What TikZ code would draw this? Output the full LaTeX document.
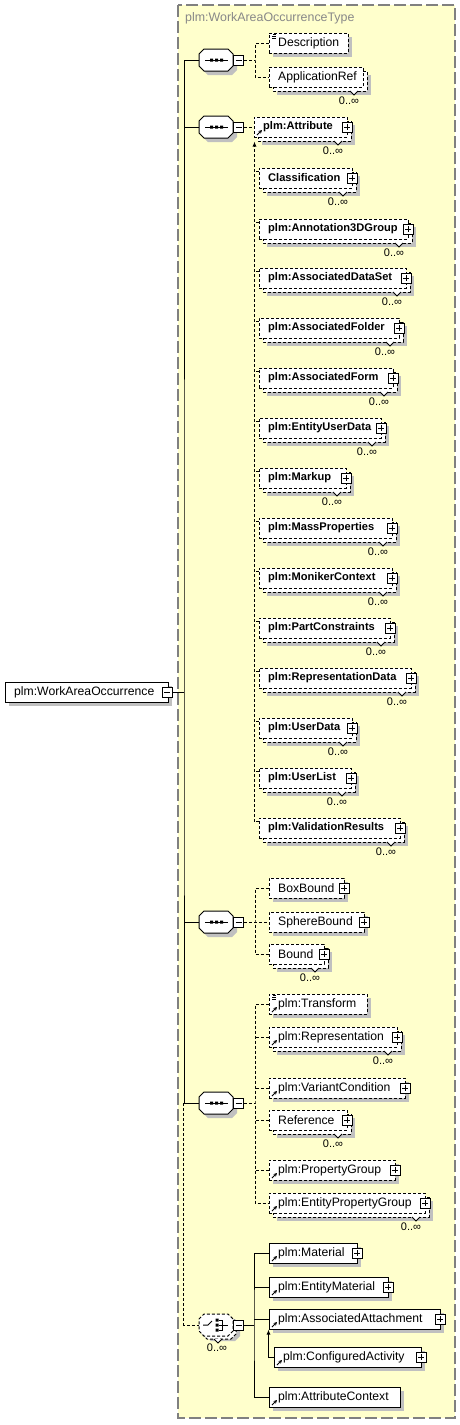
\documentclass[tikz,border=0pt]{standalone}
\usepackage{fontspec}
\setmainfont{Liberation Sans}
\usetikzlibrary{fit,arrows.meta}
\definecolor{ylw}{RGB}{255,255,204}
\definecolor{shd}{RGB}{192,192,192}
\definecolor{ttl}{RGB}{136,136,136}
\definecolor{frame}{RGB}{128,128,128}
\tikzset{
 dsh/.style={dash pattern=on 3pt off 2pt},
 ln/.style={line width=1pt},
 con/.style={line width=1pt,dash pattern=on 3pt off 2pt},
 box/.style={draw=black,fill=white,line width=1pt,inner sep=0pt},
 tx/.style={font=\fontsize{12.2}{14}\selectfont,inner sep=0pt,anchor=west},
 txb/.style={font=\fontsize{11.1}{13}\bfseries\selectfont,inner sep=0pt,anchor=west},
 occ/.style={font=\fontsize{11}{13}\selectfont,inner sep=0pt},
 sq/.style={draw=black,fill=white,line width=1pt,minimum size=10pt,inner sep=0pt},
 tip/.style={-{Latex[length=5pt,width=4pt]}},
}
% single element: name, xl, xr, cy, border style, text style, text
\newcommand{\XS}[7]{%
 \fill[shd] (#2+4,#4-6) rectangle (#3+4,#4+14);
 \node[box,#5,fit={(#2,#4-10) (#3,#4+10)}] (#1) {};
 \node[#6] (#1-t) at (#2+9,#4) {#7};
}
% multiple element
\newcommand{\XM}[7]{%
 \fill[shd] (#2+8,#4-2) rectangle (#3+8,#4+18);
 \draw[box,#5] (#2+4,#4-6) rectangle (#3+4,#4+14);
 \node[box,#5,fit={(#2,#4-10) (#3,#4+10)}] (#1) {};
 \node[#6] (#1-t) at (#2+9,#4) {#7};
 \draw[ln,fill=white] (#3-13,#4+14) -- (#3-9,#4+18) -- (#3-5,#4+14);
 \node[occ] (#1-o) at (#3-14,#4+24) {0..∞};
}
% plus square: name, x, y
\newcommand{\XP}[3]{%
 \node[sq] (#1) at (#2,#3) {};
 \draw[ln] (#2-3,#3) -- (#2+3,#3) (#2,#3-3) -- (#2,#3+3);
}
% minus square
\newcommand{\XN}[3]{%
 \node[sq] (#1) at (#2,#3) {};
 \draw[ln] (#2-3,#3) -- (#2+3,#3);
}
% documentation icon: xl, cy
\newcommand{\XD}[2]{%
 \draw[line width=0.8pt] (#1+4,#2-9) -- (#1+7,#2-9) (#1+3,#2-7) -- (#1+7,#2-7) (#1+3,#2-5) -- (#1+7,#2-5);
}
% reference arrow: xl, cy
\newcommand{\XR}[2]{%
 \draw[line width=1pt,-{Stealth[length=3.5pt,width=3.5pt]}] (#1+3,#2+8) -- (#1+8,#2+3);
}
% sequence compositor: name, cy
\newcommand{\XQ}[2]{%
 \fill[shd] (203,#2-2) -- (208,#2-7) -- (232,#2-7) -- (237,#2-2) -- (237,#2+10) -- (232,#2+15) -- (208,#2+15) -- (203,#2+10) -- cycle;
 \draw[box] (199,#2-6) -- (204,#2-11) -- (228,#2-11) -- (233,#2-6) -- (233,#2+6) -- (228,#2+11) -- (204,#2+11) -- (199,#2+6) -- cycle;
 \node[inner sep=0pt,fit={(199,#2-11) (233,#2+11)}] (#1) {};
 \draw[ln] (205,#2) -- (228,#2);
 \fill (210,#2-1.5) rectangle (213,#2+1.5) (215,#2-1.5) rectangle (218,#2+1.5) (220,#2-1.5) rectangle (223,#2+1.5);
 \XN{#1-m}{238.5}{#2}
}
% choice compositor (0..unbounded): name, cy
\newcommand{\XC}[2]{%
 \fill[shd] (206,#2-1) -- (211,#2-6) -- (235,#2-6) -- (240,#2-1) -- (240,#2+11) -- (235,#2+16) -- (211,#2+16) -- (206,#2+11) -- cycle;
 \draw[box,dsh] (202,#2-3) -- (207,#2-8) -- (231,#2-8) -- (236,#2-3) -- (236,#2+9) -- (231,#2+14) -- (207,#2+14) -- (202,#2+9) -- cycle;
 \draw[box,dsh] (199,#2-6) -- (204,#2-11) -- (228,#2-11) -- (233,#2-6) -- (233,#2+6) -- (228,#2+11) -- (204,#2+11) -- (199,#2+6) -- cycle;
 \node[inner sep=0pt,fit={(199,#2-11) (233,#2+11)}] (#1) {};
 \draw[ln,fill=white] (214,#2+14) -- (218,#2+18) -- (222,#2+14);
 \draw[ln] (203,#2) -- (208,#2) -- (212,#2-4);
 \fill (215.5,#2-6.5) rectangle (218.5,#2-3.5) (215.5,#2-1.5) rectangle (218.5,#2+1.5) (215.5,#2+3.5) rectangle (218.5,#2+6.5);
 \draw[ln] (219,#2-5) -- (222,#2-5) -- (222,#2+5) -- (219,#2+5) (219,#2) -- (228,#2);
 \XN{#1-m}{238.5}{#2}
 \node[occ] (#1-o) at (217,#2+23) {0..∞};
}
\begin{document}
\begin{tikzpicture}[x=1pt,y=-1pt]
\useasboundingbox (0,0) rectangle (460,1425);
% type frame
\draw[fill=ylw,draw=frame,line width=1.2pt,dash pattern=on 12pt off 4pt] (178,5) rectangle (455,1418);
\node[font=\fontsize{12.4}{14}\selectfont,text=ttl,inner sep=0pt,anchor=west] (title) at (185,18) {plm:WorkAreaOccurrenceType};
% root element
\fill[shd] (9,686) rectangle (172,706);
\node[box,fit={(5,682) (168,702)}] (main) {};
\node[tx] (main-t) at (14,692) {plm:WorkAreaOccurrence};
\XN{main-m}{167}{692}
% compositors
\XQ{s1}{60}
\XQ{s2}{127}
\XQ{s3}{922}
\XQ{s4}{1103}
\XC{ch}{1325}
% sequence 1
\XS{desc}{269}{348}{43}{dsh}{tx}{Description}\XD{269}{43}
\XM{appref}{269}{363}{77}{dsh}{tx}{ApplicationRef}
% sequence 2
\XM{attr}{254}{347}{127}{dsh}{txb}{plm:Attribute}\XP{attr-p}{347}{127}\XR{254}{127}
\XM{classif}{259}{352}{178}{dsh}{txb}{Classification}\XP{classif-p}{352}{178}
\XM{ann}{259}{408}{229}{dsh}{txb}{plm:Annotation3DGroup}\XP{ann-p}{408}{229}
\XM{ads}{259}{406}{278}{dsh}{txb}{plm:AssociatedDataSet}\XP{ads-p}{406}{278}
\XM{afo}{259}{399}{328}{dsh}{txb}{plm:AssociatedFolder}\XP{afo-p}{399}{328}
\XM{afm}{259}{393}{378}{dsh}{txb}{plm:AssociatedForm}\XP{afm-p}{393}{378}
\XM{eud}{259}{381}{428}{dsh}{txb}{plm:EntityUserData}\XP{eud-p}{381}{428}
\XM{mku}{259}{346}{478}{dsh}{txb}{plm:Markup}\XP{mku-p}{346}{478}
\XM{mpr}{259}{392}{528}{dsh}{txb}{plm:MassProperties}\XP{mpr-p}{392}{528}
\XM{mct}{259}{392}{578}{dsh}{txb}{plm:MonikerContext}\XP{mct-p}{392}{578}
\XM{pcs}{259}{390}{628}{dsh}{txb}{plm:PartConstraints}\XP{pcs-p}{390}{628}
\XM{rpd}{259}{411}{678}{dsh}{txb}{plm:RepresentationData}\XP{rpd-p}{411}{678}
\XM{usd}{259}{352}{728}{dsh}{txb}{plm:UserData}\XP{usd-p}{352}{728}
\XM{usl}{259}{351}{778}{dsh}{txb}{plm:UserList}\XP{usl-p}{351}{778}
\XM{vlr}{259}{400}{828}{dsh}{txb}{plm:ValidationResults}\XP{vlr-p}{400}{828}
% sequence 3
\XS{boxb}{269}{344}{888}{dsh}{tx}{BoxBound}\XP{boxb-p}{344}{888}
\XS{sphb}{269}{364}{922}{dsh}{tx}{SphereBound}\XP{sphb-p}{364}{922}
\XM{bnd}{269}{324}{954}{dsh}{tx}{Bound}\XP{bnd-p}{324}{954}
% sequence 4
\XS{trf}{269}{367}{1004}{dsh}{tx}{plm:Transform}\XD{269}{1004}\XR{269}{1004}
\XM{rep}{269}{397}{1037}{dsh}{tx}{plm:Representation}\XP{rep-p}{397}{1037}\XR{269}{1037}
\XS{vac}{269}{405}{1088}{dsh}{tx}{plm:VariantCondition}\XP{vac-p}{405}{1088}\XR{269}{1088}
\XM{refr}{269}{347}{1120}{dsh}{tx}{Reference}\XP{refr-p}{347}{1120}
\XS{prg}{269}{395}{1170}{dsh}{tx}{plm:PropertyGroup}\XP{prg-p}{395}{1170}\XR{269}{1170}
\XM{epg}{269}{425}{1203}{dsh}{tx}{plm:EntityPropertyGroup}\XP{epg-p}{425}{1203}\XR{269}{1203}
% choice
\XS{mat}{269}{357}{1253}{}{tx}{plm:Material}\XP{mat-p}{357}{1253}\XR{269}{1253}
\XS{emat}{269}{388}{1287}{}{tx}{plm:EntityMaterial}\XP{emat-p}{388}{1287}\XR{269}{1287}
\XS{aatt}{269}{440}{1319}{}{tx}{plm:AssociatedAttachment}\XP{aatt-p}{440}{1319}\XR{269}{1319}
\XS{cact}{274}{421}{1357}{}{tx}{plm:ConfiguredActivity}\XP{cact-p}{421}{1357}\XR{274}{1357}
\XS{actx}{269}{400}{1397}{}{tx}{plm:AttributeContext}\XR{269}{1397}
% trunk
\coordinate (t0) at (184,692);
\draw[ln] (main-m.east) -- (t0);
\draw[ln] (s1.west) -| (t0) |- (s4.west);
\draw[ln] (s2.west) -- ++(-15,0);
\draw[ln] (s3.west) -- ++(-15,0);
\draw[con] ([xshift=-15pt]s4.west) |- (ch.west);
% sequence 1 branches
\coordinate (b1) at (255,60);
\draw[con] (s1-m.east) -- (b1);
\draw[con] (desc.west) -| (b1) |- (appref.west);
% sequence 2 branches
\draw[con] (s2-m.east) -- (attr.west);
\draw[con,tip] ([xshift=-4pt,yshift=-4pt]vlr.north west) -- ([xshift=1pt,yshift=-4pt]attr.south west);
\foreach \m in {classif,ann,ads,afo,afm,eud,mku,mpr,mct,pcs,rpd,usd,usl,vlr}
  \draw[con] ([yshift=-4pt]\m.north west) -- ++(-4,0);
% sequence 3 branches
\coordinate (b3) at (255,922);
\draw[con] (s3-m.east) -- (sphb.west);
\draw[con] (boxb.west) -| (b3) |- (bnd.west);
% sequence 4 branches
\coordinate (b4) at (255,1103);
\draw[con] (s4-m.east) -- (b4);
\draw[con] (trf.west) -| (b4) |- (epg.west);
\foreach \m in {rep,vac,refr,prg}
  \draw[con] (\m.west) -- ++(-14,0);
% choice branches
\coordinate (b5) at (254,1325);
\draw[ln] (ch-m.east) -- (b5);
\draw[ln] (mat.west) -| (b5) |- (actx.west);
\draw[ln] (emat.west) -- ++(-15,0);
\draw[ln] (aatt.west) -- ++(-15,0);
\draw[ln,tip] (cact.west) -| (aatt.south west);
\end{tikzpicture}
\end{document}
